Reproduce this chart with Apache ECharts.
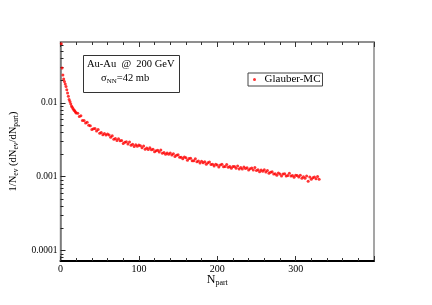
<!DOCTYPE html>
<html><head><meta charset="utf-8">
<script src="https://cdn.jsdelivr.net/npm/echarts@6/dist/echarts.min.js"></script>
<style>html,body{margin:0;padding:0;background:#fff}#c{width:432px;height:305px}</style>
</head><body><div id="c"></div>
<script>
const nPart = [1,2,3,4,5,6,7,8,9,10,11,12,13,14,15,16,17,18,19,20,
22,24,26,28,30,32,34,36,38,40,42,44,46,48,50,52,54,56,58,60,
62,64,66,68,70,72,74,76,78,80,82,84,86,88,90,92,94,96,98,100,
102,104,106,108,110,112,114,116,118,120,122,124,126,128,130,132,134,136,138,140,
142,144,146,148,150,152,154,156,158,160,162,164,166,168,170,172,174,176,178,180,
182,184,186,188,190,192,194,196,198,200,202,204,206,208,210,212,214,216,218,220,
222,224,226,228,230,232,234,236,238,240,242,244,246,248,250,252,254,256,258,260,
262,264,266,268,270,272,274,276,278,280,282,284,286,288,290,292,294,296,298,300,
302,304,306,308,310,312,314,316,318,320,322,324,326,328,330];
const dNdNpart = [0.063,0.0297,0.0239,0.0210,0.0195,0.0180,0.0166,0.0150,0.0136,0.0123,0.0111,0.0104,0.0097,0.0091,0.0087,0.0083,0.0080,0.0078,0.0075,0.0073,
0.00721,0.00655,0.00667,0.00579,0.00577,0.00533,0.00547,0.00499,0.00491,0.00436,0.00447,0.00448,0.00415,0.00436,0.00387,0.00396,0.00370,0.00386,0.00367,0.00379,
0.00367,0.00342,0.00358,0.00321,0.00329,0.00310,0.00327,0.00306,0.00309,0.00282,0.00293,0.00297,0.00278,0.00296,0.00267,0.00275,0.00257,0.00270,0.00258,0.00268,
0.00263,0.00247,0.00261,0.00236,0.00245,0.00233,0.00246,0.00232,0.00236,0.00217,0.00225,0.00229,0.00216,0.00230,0.00208,0.00213,0.00201,0.00210,0.00202,0.00209,
0.00197,0.00204,0.00188,0.00195,0.00198,0.00183,0.00184,0.00175,0.00185,0.00180,0.00167,0.00176,0.00178,0.00164,0.00165,0.00175,0.00160,0.00163,0.00153,0.00162,
0.00154,0.00160,0.00148,0.00154,0.00158,0.00146,0.00147,0.00140,0.00148,0.00144,0.00135,0.00144,0.00147,0.00136,0.00138,0.00146,0.00134,0.00137,0.00130,0.00138,
0.00138,0.00130,0.00140,0.00127,0.00133,0.00127,0.00135,0.00129,0.00132,0.00123,0.00128,0.00131,0.00123,0.00133,0.00121,0.00124,0.00117,0.00123,0.00119,0.00124,
0.00116,0.00121,0.00111,0.00115,0.00117,0.00109,0.00110,0.00105,0.00112,0.00109,0.00102,0.00109,0.00110,0.00102,0.00104,0.00111,0.00102,0.00104,0.000985,0.00105,
0.00104,0.000988,0.00105,0.000956,0.00100,0.000956,0.00102,0.00087,0.000993,0.000922,0.000966,0.000991,0.000939,0.00101,0.000922];
const xTickLabels = [0,100,200,300];
const yMajorTicks = [0.0001,0.001,0.01];
const yMajorLabels = ['0.0001','0.001','0.01'];
const yMinorTicks = [0.00008,0.00009,0.0002,0.0003,0.0004,0.0005,0.0006,0.0007,0.0008,0.0009,
0.002,0.003,0.004,0.005,0.006,0.007,0.008,0.009,0.02,0.03,0.04,0.05,0.06];
const yMin = 0.0000722, yMax = 0.0667;

const SERIF = '"Liberation Serif", "DejaVu Serif", serif';
const lyMin = Math.log10(yMin), lyMax = Math.log10(yMax);
const chart = echarts.init(document.getElementById('c'), null, {renderer:'canvas'});
chart.setOption({
  animation:false,
  backgroundColor:'#fff',
  grid:{left:60, right:58, top:42, bottom:44, show:true, borderColor:'#888', borderWidth:1.5, backgroundColor:'transparent'},
  legend:{
    left:248, top:73, padding:[1,2,1,5], borderColor:'#444', borderWidth:1,
    itemWidth:10, itemHeight:3, icon:'circle',
    data:['Glauber-MC'],
    textStyle:{fontFamily:SERIF, fontSize:11, color:'#000'}
  },
  xAxis:[{
    type:'value', min:0, max:400, interval:100, position:'bottom',
    axisLine:{lineStyle:{color:'#000', width:2}},
    axisTick:{inside:true, length:5, lineStyle:{color:'#333'}},
    minorTick:{show:true, splitNumber:5, length:3, lineStyle:{color:'#333'}},
    axisLabel:{customValues:xTickLabels, margin:3, fontFamily:SERIF, fontSize:10, color:'#000'},
    splitLine:{show:false},
    name:'{n|N}{s|part}', nameLocation:'middle', nameGap:11, nameMoveOverlap:false,
    nameTextStyle:{rich:{n:{fontFamily:SERIF, fontSize:12, color:'#000'}, s:{fontFamily:SERIF, fontSize:8, color:'#000', padding:[7,0,0,0]}}}
  },{
    type:'value', min:0, max:400, interval:100, position:'top',
    axisLine:{lineStyle:{color:'#888', width:1.5}},
    axisTick:{inside:true, length:5, lineStyle:{color:'#333'}},
    minorTick:{show:true, splitNumber:5, length:3, lineStyle:{color:'#333'}},
    axisLabel:{show:false}, splitLine:{show:false}
  }],
  yAxis:[{
    type:'log', logBase:10, min:yMin, max:yMax,
    axisLine:{show:false}, axisTick:{show:false}, axisLabel:{show:false}, splitLine:{show:false}, minorTick:{show:false}
  },{
    type:'value', min:lyMin, max:lyMax, position:'left',
    axisLine:{show:true, lineStyle:{color:'#777', width:1.5}},
    axisTick:{inside:true, length:5, customValues:yMajorTicks.map(Math.log10), lineStyle:{color:'#222'}},
    axisLabel:{customValues:yMajorTicks.map(Math.log10), margin:3, fontFamily:SERIF, fontSize:9.5, color:'#000',
      formatter:function(v){for(let i=0;i<yMajorTicks.length;i++){if(Math.abs(Math.log10(yMajorTicks[i])-v)<1e-6)return yMajorLabels[i];}return '';}},
    splitLine:{show:false},
    name:'{a|1/N}{s|ev}{a| (dN}{s|ev}{a|/dN}{s|part}{a|)}', nameLocation:'middle', nameGap:30,
    nameTextStyle:{rich:{a:{fontFamily:SERIF, fontSize:10.5, color:'#000'}, s:{fontFamily:SERIF, fontSize:7.5, color:'#000', padding:[6,0,0,0]}}}
  },{
    type:'value', min:lyMin, max:lyMax, position:'left',
    axisLine:{show:false},
    axisTick:{inside:true, length:3, customValues:yMinorTicks.map(Math.log10), lineStyle:{color:'#222'}},
    axisLabel:{show:false}, splitLine:{show:false}
  }],
  graphic:[
    {type:'rect', shape:{x:83.5, y:55.5, width:96, height:37}, style:{fill:'none', stroke:'#333', lineWidth:1}, z:10},
    {type:'text', x:87, y:64.5, style:{text:'Au-Au  @  200 GeV', font:'10.5px '+SERIF, fill:'#000', verticalAlign:'middle'}, z:10},
    {type:'text', x:101, y:78.5, style:{text:'{g|σ}{s|NN}{g|=42 mb}', verticalAlign:'middle',
      rich:{g:{fontFamily:SERIF, fontSize:10.5, fill:'#000'}, s:{fontFamily:SERIF, fontSize:7, fill:'#000', padding:[6,0,0,0]}}}, z:10}
  ],
  series:[{
    name:'Glauber-MC', type:'scatter', xAxisIndex:0, yAxisIndex:0,
    symbol:'circle', symbolSize:3,
    itemStyle:{color:'#ff0000'},
    data:nPart.map((n,i)=>[n, dNdNpart[i]])
  }]
});
</script></body></html>
